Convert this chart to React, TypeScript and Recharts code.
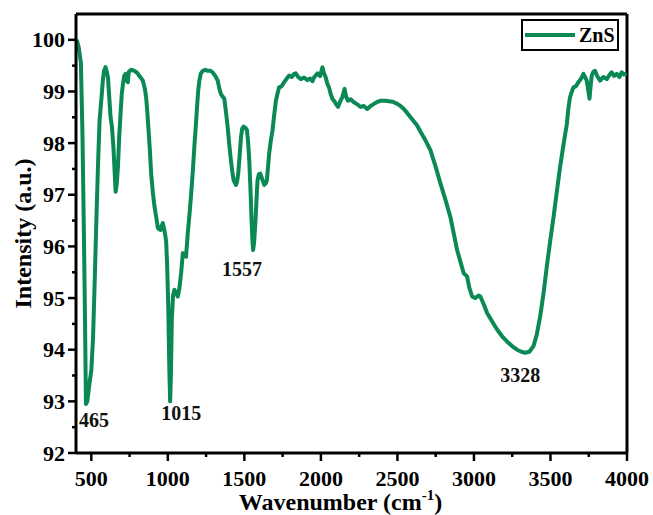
import React from 'react';
import {
  LineChart,
  Line,
  XAxis,
  YAxis,
  Legend,
  ReferenceLine,
  ReferenceDot,
  Label,
} from 'recharts';

// FTIR spectrum of ZnS
const wavenumber = [
  405, 418, 432, 442, 450, 458, 465, 474, 486, 500, 511, 522, 533, 544, 554, 565, 575, 583, 593, 600,
  609, 617, 626, 635, 645, 652, 659, 666, 674, 682, 691, 699, 707, 715, 724, 731, 739, 745, 760, 782,
  800, 815, 837, 850, 858, 866, 874, 883, 891, 902, 913, 925, 935, 944, 952, 960, 967, 975, 983, 989,
  996, 1003, 1010, 1015, 1020, 1026, 1034, 1043, 1053, 1065, 1076, 1087, 1098, 1109, 1119, 1130, 1141, 1152, 1163, 1173,
  1182, 1191, 1198, 1206, 1216, 1228, 1245, 1260, 1277, 1293, 1310, 1326, 1337, 1347, 1358, 1369, 1380, 1391, 1401, 1412,
  1421, 1430, 1445, 1452, 1460, 1469, 1478, 1486, 1495, 1506, 1517, 1525, 1532, 1540, 1547, 1553, 1557, 1563, 1573, 1580,
  1586, 1595, 1604, 1617, 1630, 1640, 1647, 1655, 1662, 1673, 1684, 1695, 1706, 1716, 1727, 1743, 1760, 1777, 1793, 1810,
  1825, 1836, 1852, 1869, 1890, 1912, 1930, 1945, 1955, 1978, 1995, 2010, 2020, 2032, 2042, 2053, 2064, 2075, 2090, 2100,
  2112, 2125, 2140, 2155, 2165, 2177, 2195, 2216, 2238, 2260, 2280, 2303, 2325, 2347, 2370, 2390, 2420, 2444, 2470, 2499,
  2520, 2542, 2565, 2586, 2608, 2629, 2651, 2684, 2716, 2749, 2781, 2814, 2846, 2868, 2890, 2912, 2933, 2955, 2970, 2988,
  3010, 3030, 3042, 3064, 3086, 3118, 3151, 3184, 3216, 3249, 3281, 3310, 3335, 3362, 3389, 3411, 3433, 3455, 3476, 3498,
  3520, 3541, 3563, 3585, 3607, 3618, 3628, 3640, 3650, 3665, 3683, 3700, 3715, 3726, 3737, 3748, 3755, 3762, 3770, 3780,
  3791, 3805, 3824, 3845, 3868, 3885, 3900, 3915, 3933, 3950, 3965, 3980, 3998,
];

const intensity = [
  100.0, 99.85, 99.55, 98.2, 96.6, 94.8, 92.95, 93.0, 93.3, 93.6, 94.2, 95.3, 96.5, 97.6, 98.44, 98.82, 99.2, 99.4, 99.47, 99.4,
  99.27, 98.9, 98.5, 98.31, 97.9, 97.47, 97.06, 97.2, 97.54, 98.1, 98.57, 98.95, 99.15, 99.3, 99.34, 99.22, 99.18, 99.38, 99.42, 99.4,
  99.36, 99.3, 99.21, 99.05, 98.89, 98.6, 98.25, 97.85, 97.41, 97.05, 96.77, 96.55, 96.36, 96.33, 96.32, 96.4, 96.45, 96.35, 96.22, 96.1,
  95.6, 94.8, 93.6, 93.0, 93.5, 94.58, 95.05, 95.16, 95.1, 95.03, 95.2, 95.49, 95.87, 95.85, 95.8, 96.25, 96.6, 97.0, 97.45, 97.92,
  98.3, 98.7, 99.0, 99.21, 99.35, 99.4, 99.42, 99.4, 99.4, 99.37, 99.3, 99.21, 99.05, 98.95, 98.9, 98.86, 98.6, 98.31, 97.98, 97.67,
  97.45, 97.28, 97.19, 97.25, 97.41, 97.75, 98.12, 98.28, 98.32, 98.3, 98.25, 98.0, 97.67, 97.1, 96.51, 96.1, 95.93, 96.05, 96.51, 96.95,
  97.28, 97.4, 97.41, 97.3, 97.19, 97.22, 97.28, 97.55, 97.8, 98.05, 98.25, 98.55, 98.82, 98.95, 99.08, 99.1, 99.18, 99.25, 99.31, 99.28,
  99.34, 99.35, 99.28, 99.24, 99.27, 99.22, 99.25, 99.2, 99.27, 99.35, 99.3, 99.47, 99.35, 99.27, 99.15, 99.08, 98.95, 98.86, 98.8, 98.75,
  98.7, 98.8, 98.89, 99.05, 98.9, 98.82, 98.85, 98.79, 98.75, 98.7, 98.72, 98.66, 98.72, 98.76, 98.8, 98.82, 98.82, 98.81, 98.8, 98.76,
  98.72, 98.66, 98.58, 98.5, 98.42, 98.34, 98.22, 98.05, 97.86, 97.55, 97.22, 96.9, 96.57, 96.25, 95.93, 95.7, 95.48, 95.42, 95.2, 95.03,
  95.0, 95.05, 95.03, 94.88, 94.71, 94.55, 94.39, 94.26, 94.16, 94.07, 94.0, 93.96, 93.94, 93.96, 94.07, 94.3, 94.65, 95.1, 95.61, 96.1,
  96.57, 97.05, 97.54, 97.97, 98.37, 98.7, 98.89, 99.0, 99.08, 99.1, 99.18, 99.25, 99.34, 99.28, 99.21, 99.0, 98.86, 99.1, 99.31, 99.38,
  99.4, 99.3, 99.21, 99.28, 99.24, 99.32, 99.37, 99.3, 99.34, 99.28, 99.37, 99.33, 99.35,
];

const peakLabels = ['465', '1015', '1557', '3328'];
const peakWavenumber = [465, 1015, 1557, 3328];
const peakIntensity = [92.95, 93.0, 95.93, 93.94];

const xTicks = [500, 750, 1000, 1250, 1500, 1750, 2000, 2250, 2500, 2750, 3000, 3250, 3500, 3750, 4000];
const yTicks = [92, 92.5, 93, 93.5, 94, 94.5, 95, 95.5, 96, 96.5, 97, 97.5, 98, 98.5, 99, 99.5, 100];

const seriesName = 'ZnS';

const data = wavenumber.map((w, i) => ({ w, v: intensity[i] }));

const GREEN = '#0a8955';
const FONT = '"Liberation Serif", "Times New Roman", serif';

// label offsets (px) from each peak to its number
const peakOffsets = [
  [8, 23],
  [11, 19],
  [-11, 26],
  [-4, 29],
];

const XTick = (props: any) => {
  const { x, y, payload } = props;
  const major = payload.value % 500 === 0;
  return (
    <g>
      <line x1={x} x2={x} y1={y} y2={y + (major ? 8 : 4)} stroke="#000" strokeWidth={2.5} />
      {major && (
        <text x={x} y={y + 33} textAnchor="middle" fontFamily={FONT} fontWeight="bold" fontSize={22} fill="#000">
          {payload.value}
        </text>
      )}
    </g>
  );
};

const YTick = (props: any) => {
  const { x, y, payload } = props;
  const major = Number.isInteger(payload.value);
  return (
    <g>
      <line x1={x} x2={x - (major ? 8 : 4)} y1={y} y2={y} stroke="#000" strokeWidth={2.5} />
      {major && (
        <text x={x - 11} y={y + 7.5} textAnchor="end" fontFamily={FONT} fontWeight="bold" fontSize={22} fill="#000">
          {payload.value}
        </text>
      )}
    </g>
  );
};

const LegendBox = () => (
  <div
    style={{
      width: 98,
      height: 32,
      boxSizing: 'border-box',
      border: '2px solid #000',
      background: '#fff',
      display: 'flex',
      alignItems: 'center',
      fontFamily: FONT,
      fontWeight: 'bold',
      fontSize: 20,
      color: '#000',
    }}
  >
    <svg width={52} height={8} style={{ marginLeft: 2 }}>
      <line x1={0} x2={50} y1={4} y2={4} stroke={GREEN} strokeWidth={4} />
    </svg>
    <span style={{ marginLeft: 2 }}>{seriesName}</span>
  </div>
);

export default function App() {
  return (
    <div style={{ position: 'absolute', left: 0, top: 0, width: 653, height: 515, background: '#fff' }}>
      <LineChart width={653} height={515} data={data} margin={{ top: 14, right: 26, left: 0, bottom: 0 }}>
        <XAxis
          dataKey="w"
          type="number"
          domain={[400, 4000]}
          ticks={xTicks}
          interval={0}
          height={62}
          tickSize={0}
          tickMargin={0}
          tickLine={false}
          tick={<XTick />}
          axisLine={{ stroke: '#000', strokeWidth: 3 }}
        >
          <Label
            content={(p: any) => {
              const vb = p.viewBox;
              const cx = vb.x + vb.width / 2 - 11;
              return (
                <text x={cx} y={510} textAnchor="middle" fontFamily={FONT} fontWeight="bold" fontSize={24} fill="#000">
                  Wavenumber (cm
                  <tspan dy={-10} fontSize={15}>-1</tspan>
                  <tspan dy={10}>)</tspan>
                </text>
              );
            }}
          />
        </XAxis>
        <YAxis
          type="number"
          domain={[92, 100.5]}
          ticks={yTicks}
          interval={0}
          width={76}
          tickSize={0}
          tickMargin={0}
          tickLine={false}
          tick={<YTick />}
          axisLine={{ stroke: '#000', strokeWidth: 3 }}
        >
          <Label
            content={(p: any) => {
              const vb = p.viewBox;
              const cy = vb.y + vb.height / 2;
              return (
                <text
                  transform={`translate(31, ${cy}) rotate(-90)`}
                  textAnchor="middle"
                  fontFamily={FONT}
                  fontWeight="bold"
                  fontSize={24}
                  fill="#000"
                >
                  Intensity (a.u.)
                </text>
              );
            }}
          />
        </YAxis>
        <ReferenceLine y={100.5} stroke="#000" strokeWidth={3} />
        <ReferenceLine x={4000} stroke="#000" strokeWidth={3} />
        <Legend
          layout="vertical"
          align="center"
          verticalAlign="middle"
          wrapperStyle={{ top: 19, left: 521, width: 98 }}
          content={() => <LegendBox />}
        />
        <Line
          type="linear"
          dataKey="v"
          name={seriesName}
          stroke={GREEN}
          strokeWidth={4}
          strokeLinejoin="round"
          dot={false}
          activeDot={false}
          isAnimationActive={false}
        />
        {peakLabels.map((lab, i) => (
          <ReferenceDot
            key={lab}
            x={peakWavenumber[i]}
            y={peakIntensity[i]}
            r={0}
            shape={(p: any) => (
              <text
                x={p.cx + peakOffsets[i][0]}
                y={p.cy + peakOffsets[i][1]}
                textAnchor="middle"
                fontFamily={FONT}
                fontWeight="bold"
                fontSize={20}
                fill="#111"
              >
                {lab}
              </text>
            )}
          />
        ))}
      </LineChart>
    </div>
  );
}
